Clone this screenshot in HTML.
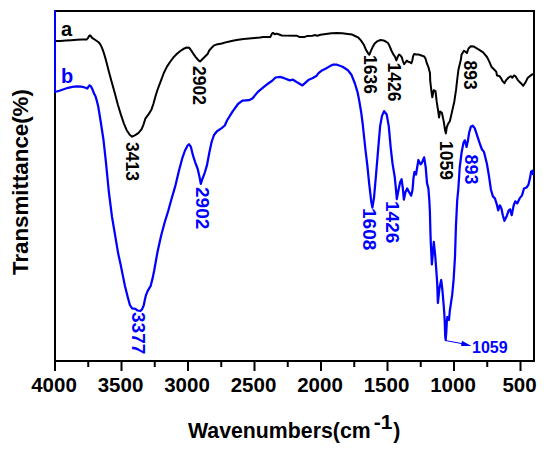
<!DOCTYPE html>
<html><head><meta charset="utf-8"><style>
html,body{margin:0;padding:0;background:#fff;width:550px;height:454px;overflow:hidden}
svg{display:block}
text{font-family:"Liberation Sans", sans-serif;font-weight:bold}
</style></head><body>
<svg width="550" height="454" viewBox="0 0 550 454">
<rect x="0" y="0" width="550" height="454" fill="#fff"/>
<g stroke="#000" stroke-width="2" fill="none" stroke-linecap="square">
<line x1="56" y1="11" x2="535" y2="11" stroke-linecap="butt"/>
<line x1="534" y1="11" x2="534" y2="361"/>
<line x1="55" y1="361" x2="534" y2="361"/>
<line x1="55" y1="93" x2="55" y2="370" stroke-linecap="butt"/>
<line x1="55.00" y1="361" x2="55.00" y2="370" /><line x1="121.50" y1="361" x2="121.50" y2="370" /><line x1="188.00" y1="361" x2="188.00" y2="370" /><line x1="254.50" y1="361" x2="254.50" y2="370" /><line x1="321.00" y1="361" x2="321.00" y2="370" /><line x1="387.50" y1="361" x2="387.50" y2="370" /><line x1="454.00" y1="361" x2="454.00" y2="370" /><line x1="520.50" y1="361" x2="520.50" y2="370" /><line x1="88.25" y1="361" x2="88.25" y2="366" /><line x1="154.75" y1="361" x2="154.75" y2="366" /><line x1="221.25" y1="361" x2="221.25" y2="366" /><line x1="287.75" y1="361" x2="287.75" y2="366" /><line x1="354.25" y1="361" x2="354.25" y2="366" /><line x1="420.75" y1="361" x2="420.75" y2="366" /><line x1="487.25" y1="361" x2="487.25" y2="366" />
</g>
<line x1="55" y1="10" x2="55" y2="93" stroke="#0000ff" stroke-width="2"/>
<path d="M56.0,41.1 L60.5,40.9 L65.9,40.5 L71.4,40.2 L76.8,39.8 L82.3,39.5 L86.6,39.5 L87.7,38.4 L89.4,35.6 L90.5,35.6 L92.1,37.8 L95.4,40.0 L98.6,42.2 L100.3,44.4 L101.9,47.6 L103.3,51.3 L105.9,59.9 L108.9,71.8 L111.9,82.7 L114.9,93.6 L117.8,104.5 L120.8,114.4 L123.8,123.3 L126.7,130.2 L129.7,134.8 L132.1,136.7 L135.2,135.1 L138.6,132.8 L141.6,129.2 L143.6,124.3 L145.5,118.3 L148.5,114.4 L151.5,109.4 L153.5,103.5 L155.4,96.5 L157.6,89.5 L160.5,81.8 L163.8,73.0 L167.1,66.4 L170.4,61.5 L173.7,57.1 L177.0,53.8 L180.3,51.0 L183.6,48.8 L186.9,47.5 L189.1,47.7 L190.8,49.9 L193.0,53.2 L195.7,57.1 L198.5,60.4 L200.1,61.5 L202.3,59.3 L205.6,56.0 L207.8,53.8 L208.9,51.0 L211.7,47.7 L214.0,45.4 L216.4,44.6 L221.8,43.5 L227.3,41.9 L232.7,40.8 L238.2,39.7 L243.6,39.0 L249.1,38.6 L254.5,38.1 L260.0,37.5 L263.3,36.9 L270.4,36.9 L272.0,33.6 L273.1,32.9 L274.7,34.2 L276.4,33.6 L278.5,34.2 L281.8,35.5 L297.1,35.8 L299.3,36.9 L304.7,36.9 L306.9,36.1 L312.4,35.8 L315.6,35.1 L317.2,35.8 L320.5,34.7 L325.9,34.0 L331.4,33.3 L336.8,33.1 L342.3,33.3 L347.7,34.0 L352.2,34.6 L355.1,36.0 L358.0,37.3 L360.9,40.4 L363.8,44.7 L366.0,49.8 L368.2,53.5 L369.3,54.8 L370.7,51.3 L372.5,47.3 L374.7,43.6 L377.6,41.1 L380.5,40.0 L383.5,40.4 L385.7,41.5 L388.0,43.0 L389.5,45.9 L391.4,50.5 L393.2,54.1 L395.0,56.8 L396.4,60.5 L397.7,56.8 L399.1,54.5 L400.5,55.5 L401.8,57.3 L402.7,60.5 L404.1,64.1 L405.5,62.3 L406.8,60.5 L408.2,61.8 L410.0,62.3 L411.4,63.2 L412.3,60.5 L413.2,55.9 L414.1,54.1 L415.9,54.5 L418.6,54.5 L421.4,55.5 L424.1,56.4 L425.5,58.6 L426.8,63.2 L428.6,67.7 L430.0,73.2 L430.2,80.6 L431.4,91.1 L432.3,97.3 L433.7,90.2 L435.5,91.1 L436.7,101.7 L438.5,113.1 L439.0,117.5 L440.2,111.4 L442.0,113.1 L443.8,121.9 L445.0,129.9 L445.9,133.4 L446.8,127.2 L448.2,123.7 L449.9,121.0 L451.7,113.1 L454.3,101.7 L456.1,89.4 L457.3,78.8 L458.4,70.0 L461.0,59.0 L461.5,54.7 L463.9,50.8 L465.4,51.6 L466.9,53.1 L468.5,48.5 L470.8,46.2 L473.9,46.6 L478.5,49.3 L483.1,52.3 L487.0,57.0 L489.3,61.6 L491.6,67.0 L493.9,69.3 L496.2,71.6 L497.0,75.5 L499.3,75.9 L500.8,77.8 L502.4,80.9 L504.4,83.2 L506.2,80.1 L508.6,77.5 L510.9,76.2 L512.4,77.8 L513.9,75.5 L515.5,76.2 L517.8,80.1 L520.9,83.2 L523.2,85.8 L525.5,82.4 L527.8,77.8 L530.1,75.9 L533.0,73.9" fill="none" stroke="#000" stroke-width="2" stroke-linejoin="round"/>
<path d="M56.0,91.8 L59.4,90.7 L63.7,89.3 L68.1,87.8 L72.5,86.9 L76.8,86.4 L81.2,86.6 L84.8,87.5 L87.4,88.5 L88.5,86.7 L89.5,85.3 L91.0,86.4 L92.5,89.6 L94.3,94.0 L95.6,96.5 L96.9,101.1 L98.2,106.4 L99.5,114.3 L100.8,122.2 L102.2,131.5 L103.5,140.0 L105.8,160.8 L108.8,191.5 L111.9,216.2 L115.0,234.6 L118.1,253.1 L120.5,264.0 L122.9,275.9 L124.9,285.8 L127.9,297.7 L129.9,305.0 L132.1,308.3 L135.4,308.8 L137.6,310.5 L140.4,311.0 L142.0,309.4 L143.7,305.5 L144.8,300.0 L145.8,295.7 L147.7,290.8 L150.7,285.8 L152.7,277.9 L154.1,271.0 L157.5,252.0 L161.1,235.7 L164.5,223.0 L168.2,211.0 L171.5,199.0 L175.2,186.4 L179.0,170.5 L182.3,158.2 L185.0,150.5 L187.6,145.5 L189.0,144.3 L190.8,146.6 L193.1,155.9 L195.4,162.8 L197.7,169.0 L199.3,175.9 L200.8,183.8 L202.4,179.0 L204.7,172.8 L207.0,165.1 L209.3,152.8 L211.6,142.0 L214.0,135.0 L217.0,131.2 L221.7,128.1 L224.8,125.5 L227.0,120.5 L232.5,111.7 L238.0,104.0 L242.4,100.7 L249.0,100.2 L252.4,98.5 L257.9,91.9 L264.5,86.3 L268.9,83.0 L272.2,80.8 L275.5,77.5 L279.9,76.9 L284.3,78.2 L289.8,80.4 L293.1,79.7 L297.5,82.6 L302.4,85.4 L305.3,82.8 L308.8,79.7 L312.3,78.3 L316.3,76.1 L318.5,73.1 L322.0,70.4 L326.4,68.2 L330.8,65.6 L333.5,64.5 L337.0,64.7 L342.6,66.7 L347.9,70.3 L351.4,74.7 L354.9,83.5 L357.6,92.3 L359.3,101.1 L361.1,111.7 L362.7,124.0 L364.2,138.0 L365.6,151.0 L367.3,165.0 L369.2,184.0 L371.2,201.0 L372.4,207.6 L374.0,197.8 L376.1,174.0 L378.3,147.6 L380.1,126.4 L382.0,115.9 L384.1,111.1 L386.7,114.5 L388.8,126.4 L390.7,147.6 L392.5,163.4 L394.7,176.7 L396.0,189.9 L396.8,199.1 L398.5,190.0 L400.2,182.0 L401.6,179.3 L402.8,188.0 L403.9,199.6 L405.5,192.0 L407.2,188.4 L409.0,192.0 L411.2,195.6 L412.5,190.0 L413.5,178.0 L414.5,172.0 L416.0,174.5 L418.4,160.0 L420.5,164.3 L421.7,163.2 L424.1,157.3 L425.7,167.2 L427.0,183.1 L428.4,188.4 L429.3,200.0 L429.9,212.0 L430.4,231.5 L430.8,243.2 L431.9,264.4 L433.8,241.9 L435.3,256.5 L437.2,282.9 L437.9,303.0 L439.5,288.0 L441.2,280.0 L442.4,290.0 L443.5,303.0 L444.2,312.0 L444.8,323.0 L445.2,336.0 L445.7,340.0 L446.3,332.0 L446.8,322.0 L447.3,317.0 L448.2,318.0 L449.0,320.0 L449.8,311.0 L452.2,294.7 L453.6,280.0 L455.0,256.5 L455.9,227.1 L457.2,200.5 L458.4,188.0 L459.7,167.5 L461.6,152.5 L463.4,143.1 L464.8,140.3 L466.6,146.9 L467.8,141.3 L469.1,132.8 L470.9,126.6 L472.8,125.7 L474.7,128.1 L476.6,133.8 L478.4,139.4 L480.3,145.0 L482.0,149.5 L484.0,151.9 L486.9,163.8 L488.9,175.6 L490.9,189.5 L492.9,196.4 L494.9,198.4 L496.8,204.4 L498.2,210.3 L499.8,205.3 L501.4,208.3 L502.8,215.2 L504.4,220.8 L506.7,216.2 L508.7,210.3 L510.1,209.3 L511.7,215.2 L513.7,205.3 L515.2,201.4 L517.2,203.4 L519.6,198.4 L522.0,195.4 L524.0,188.5 L526.5,187.5 L528.5,184.6 L529.9,178.6 L531.1,171.7 L532.5,170.7 L533.3,175.0" fill="none" stroke="#0000ff" stroke-width="2.25" stroke-linejoin="round"/>
<g font-size="20.5" fill="#000"><text x="54.00" y="391.5" text-anchor="middle">4000</text><text x="120.50" y="391.5" text-anchor="middle">3500</text><text x="187.00" y="391.5" text-anchor="middle">3000</text><text x="253.50" y="391.5" text-anchor="middle">2500</text><text x="320.00" y="391.5" text-anchor="middle">2000</text><text x="386.50" y="391.5" text-anchor="middle">1500</text><text x="453.00" y="391.5" text-anchor="middle">1000</text><text x="519.50" y="391.5" text-anchor="middle">500</text></g>
<text x="61" y="36" font-size="20" fill="#000">a</text>
<text x="61" y="82.5" font-size="20" fill="#0000ff">b</text>
<text transform="translate(126,142) rotate(90)" font-size="17.5" fill="#000">3413</text><text transform="translate(193,66) rotate(90)" font-size="17.5" fill="#000">2902</text><text transform="translate(363.5,55) rotate(90)" font-size="17.5" fill="#000">1636</text><text transform="translate(387.5,62.5) rotate(90)" font-size="17.5" fill="#000">1426</text><text transform="translate(439.5,141) rotate(90)" font-size="17.5" fill="#000">1059</text><text transform="translate(464,60.5) rotate(90)" font-size="17.5" fill="#000">893</text><text transform="translate(131.5,312) rotate(90)" font-size="19" fill="#0000ff">3377</text><text transform="translate(196,187) rotate(90)" font-size="19" fill="#0000ff">2902</text><text transform="translate(363,208) rotate(90)" font-size="19" fill="#0000ff">1608</text><text transform="translate(386,201) rotate(90)" font-size="19" fill="#0000ff">1426</text><text transform="translate(464.5,154.5) rotate(90)" font-size="18" fill="#0000ff">893</text>
<line x1="445.4" y1="340.5" x2="464" y2="344" stroke="#0000ff" stroke-width="1"/>
<path d="M471.5,345.9 L462,340.8 L461,346 Z" fill="#0000ff"/>
<text x="472" y="352.5" font-size="16" fill="#0000ff">1059</text>
<text transform="translate(28,275) rotate(-90)" font-size="22.3" fill="#000">Transmittance(%)</text>
<text x="188" y="438" font-size="21.3" fill="#000">Wavenumbers(cm<tspan font-size="21" dx="3" dy="-9.5">-1</tspan><tspan dx="1" dy="9.5">)</tspan></text>
</svg>
</body></html>
